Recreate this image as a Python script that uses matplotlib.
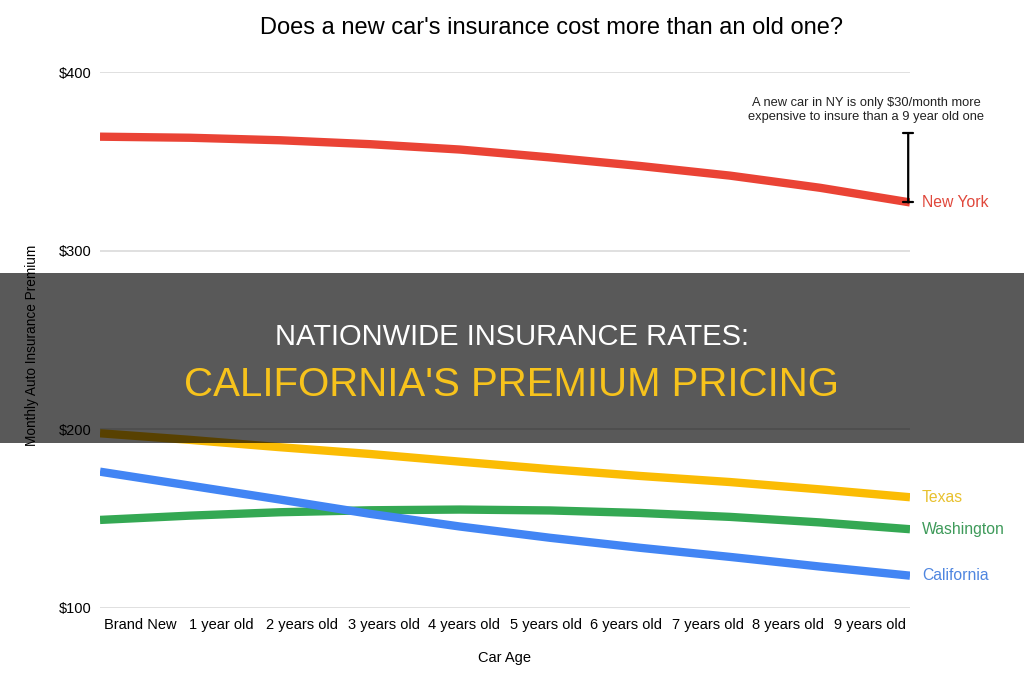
import matplotlib
matplotlib.use('Agg')
import matplotlib.pyplot as plt
from matplotlib.patches import Rectangle
import numpy as np

# Data
car_age = ['Brand New', '1 year old', '2 years old', '3 years old', '4 years old',
           '5 years old', '6 years old', '7 years old', '8 years old', '9 years old']
new_york = [363.8, 363.2, 361.8, 359.6, 356.6, 352.2, 347.4, 342.0, 335.2, 327.0]
texas = [197.8, 194.1, 190.0, 186.2, 181.9, 177.7, 173.9, 170.5, 166.4, 162.0]
washington = [149.3, 151.7, 153.6, 154.7, 155.1, 154.6, 153.2, 151.0, 147.9, 144.1]
california = [176.3, 168.5, 160.7, 152.7, 145.6, 139.3, 133.7, 128.6, 123.2, 118.1]
yticks = [100, 200, 300, 400]

series = [
    ('New York', new_york, '#ea4335', '#e0483c'),
    ('Texas', texas, '#fbbc04', '#e8c12e'),
    ('Washington', washington, '#34a853', '#3e9a5a'),
    ('California', california, '#4285f4', '#4f86e0'),
]

plt.rcParams['font.family'] = ['Liberation Sans', 'DejaVu Sans']

fig = plt.figure(figsize=(10.24, 6.84), dpi=100)
W, H = 1024, 684
ax = fig.add_axes([100 / W, (H - 608) / H, 810 / W, 536 / H])

x = np.arange(len(car_age))
for name, vals, col, txtcol in series:
    ax.plot(x, vals, color=col, lw=6, solid_capstyle='butt', solid_joinstyle='round', zorder=3)
    ax.annotate(name, xy=(x[-1], vals[-1]), xytext=(12, 0), textcoords='offset pixels',
                color=txtcol, fontsize=11.3, va='center', ha='left')

# bracket showing the NY difference
ax.annotate('', xy=(x[-1] - 0.02, new_york[-1]), xytext=(x[-1] - 0.02, new_york[0] + 2),
            arrowprops=dict(arrowstyle='|-|,widthA=0.35,widthB=0.35', color='black', lw=1.6,
                        shrinkA=0, shrinkB=0), zorder=4)
ax.annotate('A new car in NY is only $30/month more\nexpensive to insure than a 9 year old one',
            xy=(x[-1], new_york[0] + 2), xytext=(-44, 10), textcoords='offset pixels',
            ha='center', va='bottom', fontsize=9.3, color='#222222', linespacing=1.25)

ax.set_xlim(0, len(car_age) - 1)
ax.set_ylim(100, 400)
band = (len(car_age) - 1) / len(car_age)
ax.set_xticks((x + 0.5) * band)
ax.set_xticklabels(car_age, fontsize=10.5)
ax.set_yticks(yticks)
ax.set_yticklabels([f'${v}' for v in yticks], fontsize=10.5)
ax.tick_params(length=0, pad=7)
ax.tick_params(axis='y', pad=6)
ax.grid(axis='y', color='#dadada', lw=1.2)
ax.set_axisbelow(True)
for s in ax.spines.values():
    s.set_visible(False)

ax.set_xlabel('Car Age', fontsize=10.5, labelpad=14)
fig.text(32 / W, 1 - 345 / H, 'Monthly Auto Insurance Premium', rotation=90,
         ha='center', va='center', fontsize=9.8)

fig.text(552 / W, 1 - 28 / H, "Does a new car's insurance cost more than an old one?",
         ha='center', va='center', fontsize=17)

# dark banner overlay
fig.patches.append(Rectangle((0, 1 - 443 / H), 1, 170 / H, transform=fig.transFigure,
                             facecolor='black', alpha=0.65, edgecolor='none', zorder=10))
fig.text(0.5, 1 - 337 / H, 'NATIONWIDE INSURANCE RATES:', ha='center', va='center',
         fontsize=21, color='white', zorder=11)
fig.text(0.5, 1 - 385 / H, "CALIFORNIA'S PREMIUM PRICING", ha='center', va='center',
         fontsize=29, color='#f7c31c', zorder=11)

fig.savefig('out.png', dpi=100, facecolor='white')
